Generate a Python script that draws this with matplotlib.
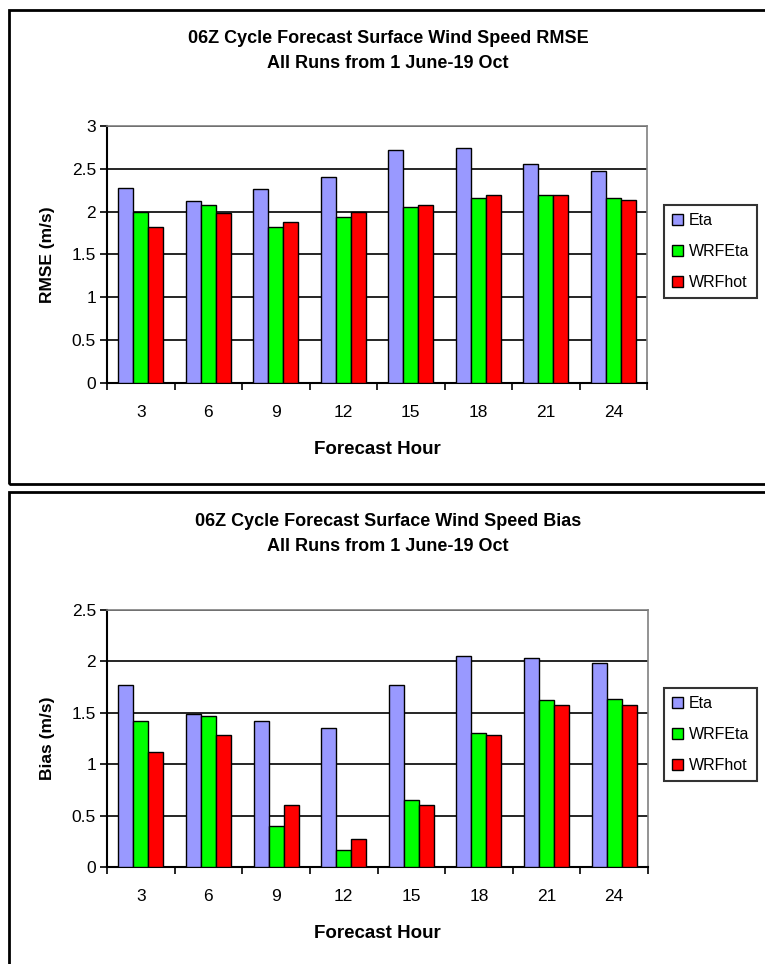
import matplotlib
matplotlib.use("Agg")
import matplotlib.pyplot as plt
from matplotlib.patches import Rectangle
import numpy as np

plt.rcParams['font.family'] = ['Liberation Sans', 'DejaVu Sans']

# Data
hours = [3, 6, 9, 12, 15, 18, 21, 24]
series = ["Eta", "WRFEta", "WRFhot"]
colors = ["#9999FF", "#00FF00", "#FF0000"]

rmse_eta = [2.28, 2.12, 2.26, 2.40, 2.72, 2.74, 2.56, 2.48]
rmse_wrfeta = [2.00, 2.08, 1.82, 1.94, 2.06, 2.16, 2.20, 2.16]
rmse_wrfhot = [1.82, 1.98, 1.88, 2.00, 2.08, 2.20, 2.20, 2.14]

bias_eta = [1.77, 1.49, 1.42, 1.35, 1.77, 2.05, 2.03, 1.98]
bias_wrfeta = [1.42, 1.47, 0.40, 0.17, 0.65, 1.30, 1.62, 1.63]
bias_wrfhot = [1.12, 1.28, 0.60, 0.27, 0.60, 1.28, 1.58, 1.58]

W, H = 765, 964
fig = plt.figure(figsize=(W / 100, H / 100), dpi=100)


def px_axes(x0, y0, x1, y1):
    # pixel box (top-left origin) -> figure axes
    return fig.add_axes([x0 / W, 1 - y1 / H, (x1 - x0) / W, (y1 - y0) / H])


def draw_chart(ax, data, ymax, ylabel, title, title_y, leg_y):
    n = len(hours)
    x = np.arange(n)
    bw = 1 / 4.5
    start = -0.5 + 0.75 * bw
    handles = []
    for i, (vals, c, name) in enumerate(zip(data, colors, series)):
        b = ax.bar(x + start + i * bw, vals, width=bw, align='edge',
                   color=c, edgecolor='black', linewidth=1.0, label=name, zorder=3)
        handles.append(b)
    ax.set_xlim(-0.5, n - 0.5)
    ax.set_ylim(0, ymax)
    ax.set_yticks(np.arange(0, ymax + 0.01, 0.5))
    ax.set_yticklabels([f"{v:g}" for v in np.arange(0, ymax + 0.01, 0.5)])
    ax.yaxis.grid(True, color='black', linewidth=1.2, zorder=0)
    ax.set_axisbelow(True)
    ax.set_xticks(np.arange(-0.5, n, 1.0))
    ax.set_xticklabels([])
    ax.set_xticks(x, minor=True)
    ax.set_xticklabels([str(h) for h in hours], minor=True, fontsize=12.5)
    ax.tick_params(axis='x', which='minor', length=0, pad=16)
    ax.tick_params(axis='x', which='major', direction='out', length=5, width=1.2)
    ax.tick_params(axis='y', direction='out', length=5, width=1.2, labelsize=12.5, pad=3)
    for s in ['top', 'right']:
        ax.spines[s].set_color('#808080')
        ax.spines[s].set_linewidth(1.2)
    for s in ['left', 'bottom']:
        ax.spines[s].set_color('black')
        ax.spines[s].set_linewidth(1.5)
    ax.set_xlabel("Forecast Hour", fontsize=13.5, fontweight='bold', labelpad=15)
    ax.set_ylabel(ylabel, fontsize=12.5, fontweight='bold', labelpad=12)
    fig.text(388 / W, 1 - title_y / H, title, ha='center', va='center',
             fontsize=13, fontweight='bold', linespacing=1.6)
    leg = fig.legend(handles=handles, loc='upper left',
                     bbox_to_anchor=(664 / W, 1 - leg_y / H), borderaxespad=0,
                     fontsize=11.5, frameon=True, fancybox=False, edgecolor='black',
                     handlelength=0.7, handleheight=0.7, handletextpad=0.35,
                     labelspacing=1.0, borderpad=0.5)
    leg.get_frame().set_linewidth(1.5)


subtitle = "All Runs from 1 June-19 Oct"

ax1 = px_axes(107, 126, 647, 383)
draw_chart(ax1, [rmse_eta, rmse_wrfeta, rmse_wrfhot], 3.0, "RMSE (m/s)",
           "06Z Cycle Forecast Surface Wind Speed RMSE\n" + subtitle, 51, 205)

ax2 = px_axes(107, 610, 648, 867)
draw_chart(ax2, [bias_eta, bias_wrfeta, bias_wrfhot], 2.5, "Bias (m/s)",
           "06Z Cycle Forecast Surface Wind Speed Bias\n" + subtitle, 534, 688)

# Outer chart-area boxes
for y0, y1 in [(10, 484), (492, 990)]:
    fig.patches.append(Rectangle((9 / W, 1 - y1 / H), (800 - 9) / W, (y1 - y0) / H,
                                 transform=fig.transFigure, fill=False,
                                 edgecolor='black', linewidth=2.0, zorder=0))

fig.savefig("out.png", dpi=100)
